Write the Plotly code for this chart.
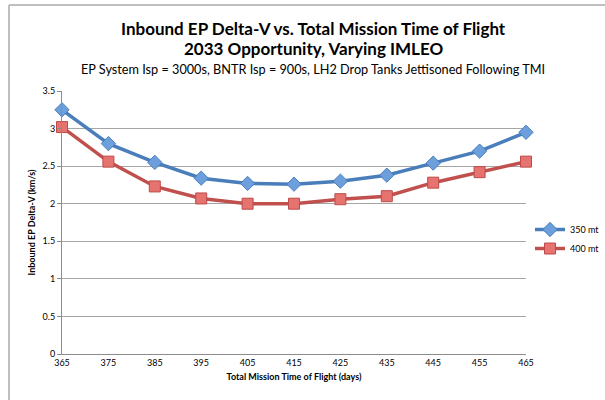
import plotly.graph_objects as go

days = [365, 375, 385, 395, 405, 415, 425, 435, 445, 455, 465]
dv_350 = [3.25, 2.80, 2.55, 2.34, 2.27, 2.26, 2.30, 2.38, 2.54, 2.70, 2.95]
dv_400 = [3.02, 2.56, 2.23, 2.07, 2.00, 2.00, 2.06, 2.10, 2.28, 2.42, 2.56]
series_names = ["350 mt", "400 mt"]
y_ticks = [0, 0.5, 1, 1.5, 2, 2.5, 3, 3.5]
y_tick_text = ["0", "0.5", "1", "1.5", "2", "2.5", "3", "3.5"]

FONT = "Lato, 'Open Sans', sans-serif"

fig = go.Figure()
fig.add_trace(go.Scatter(
    x=days, y=dv_350, name=series_names[0], mode="lines+markers",
    line=dict(color="#4A7EBB", width=3.5),
    marker=dict(symbol="diamond", size=11, color="#6C9FDC",
                line=dict(color="#4A7EBB", width=1)),
    cliponaxis=False))
fig.add_trace(go.Scatter(
    x=days, y=dv_400, name=series_names[1], mode="lines+markers",
    line=dict(color="#C0504D", width=3.5),
    marker=dict(symbol="square", size=11, color="#E57370",
                line=dict(color="#BE4B48", width=1)),
    cliponaxis=False))

L, R, T, B = 62, 79, 91, 46
W, H = 605, 400
pw, ph = W - L - R, H - T - B

def px_x(px):
    return (px - L) / pw

def px_y(py):
    return (H - B - py) / ph

fig.update_layout(
    width=W, height=H,
    margin=dict(l=L, r=R, t=T, b=B, autoexpand=False),
    paper_bgcolor="white", plot_bgcolor="white",
    font=dict(family=FONT, color="#000000"),
    showlegend=True,
    legend=dict(x=px_x(530), y=px_y(239), xanchor="left", yanchor="middle",
                font=dict(size=9, family=FONT), itemwidth=30,
                tracegroupgap=2, bgcolor="rgba(0,0,0,0)"),
    xaxis=dict(range=[365, 465], tickvals=days, ticktext=[str(d) for d in days],
               showgrid=False, zeroline=False, showline=True,
               linecolor="#8C8C8C", linewidth=1, ticks="",
               tickfont=dict(size=9, family=FONT),
               title=dict(text="<b>Total Mission Time of Flight (days)</b>",
                          font=dict(size=9, family=FONT), standoff=6)),
    yaxis=dict(range=[0, 3.5], tickvals=y_ticks, ticktext=y_tick_text,
               showgrid=True, gridcolor="#A6A6A6", gridwidth=1,
               zeroline=False, showline=True, linecolor="#8C8C8C", linewidth=1,
               ticks="outside", ticklen=4, tickcolor="#8C8C8C",
               tickfont=dict(size=9, family=FONT),
               title=dict(text="<b>Inbound EP Delta-V (km/s)</b>",
                          font=dict(size=9, family=FONT), standoff=5)),
)

cx = px_x(313)
fig.add_annotation(x=cx, y=px_y(28), xref="paper", yref="paper",
                   text="<b>Inbound EP Delta-V vs. Total Mission Time of Flight</b>",
                   showarrow=False, font=dict(size=17, family=FONT),
                   xanchor="center", yanchor="middle")
fig.add_annotation(x=cx, y=px_y(49), xref="paper", yref="paper",
                   text="<b>2033 Opportunity, Varying IMLEO</b>",
                   showarrow=False, font=dict(size=17, family=FONT),
                   xanchor="center", yanchor="middle")
fig.add_annotation(x=cx, y=px_y(69), xref="paper", yref="paper",
                   text="EP System Isp = 3000s, BNTR Isp = 900s, LH2 Drop Tanks Jettisoned Following TMI",
                   showarrow=False, font=dict(size=12.7, family=FONT),
                   xanchor="center", yanchor="middle")

fig.add_shape(type="line", xref="paper", yref="paper",
              x0=px_x(9), y0=px_y(5), x1=px_x(606), y1=px_y(5),
              line=dict(color="#BFBFBF", width=2))
fig.add_shape(type="line", xref="paper", yref="paper",
              x0=px_x(9), y0=px_y(5), x1=px_x(9), y1=px_y(401),
              line=dict(color="#BFBFBF", width=2))

fig.write_html("out.html", config={"displayModeBar": False},
               post_script="document.body.style.margin='0';document.body.style.padding='0';")
